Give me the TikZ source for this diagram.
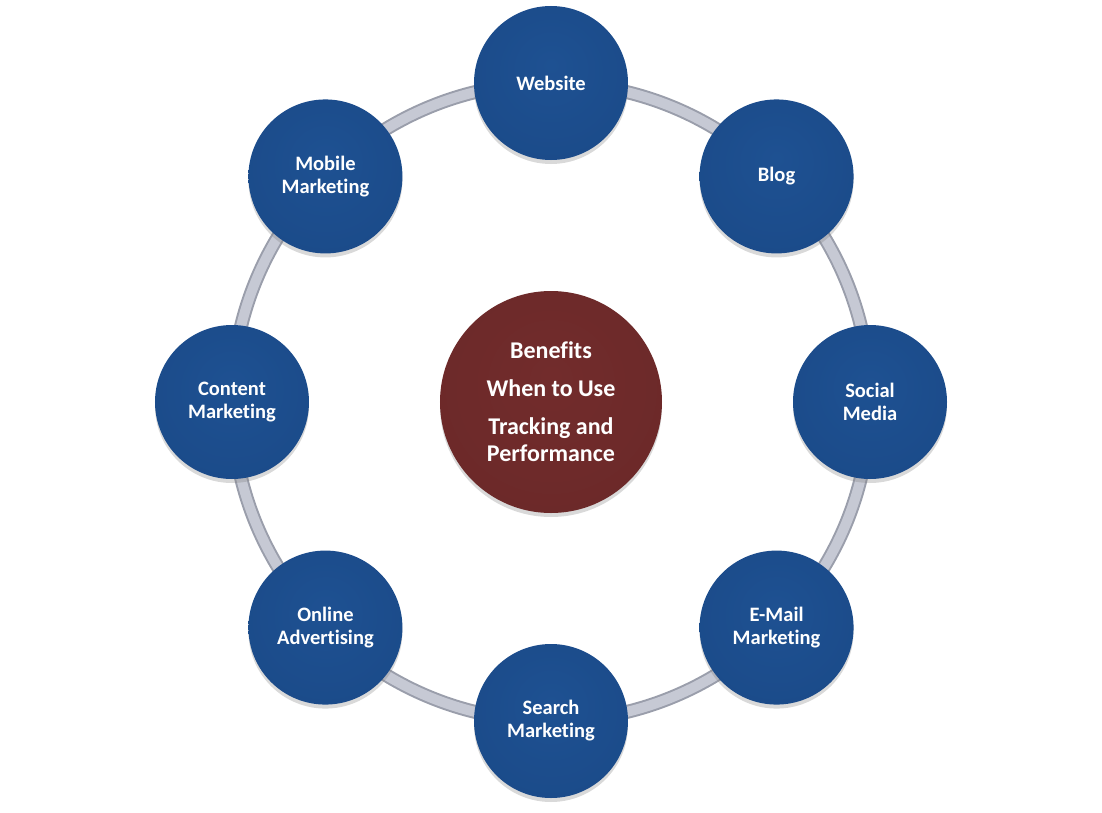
\documentclass[tikz,border=0pt]{standalone}
\usepackage{fontspec}
\setmainfont[Ligatures=NoCommon]{Carlito}
\usetikzlibrary{shadows}

\definecolor{navyIn}{HTML}{1E5192}
\definecolor{navyMid}{HTML}{1A4987}
\definecolor{navyOut}{HTML}{113769}
\definecolor{wineIn}{HTML}{722C2C}
\definecolor{wineMid}{HTML}{6A2828}
\definecolor{wineOut}{HTML}{521B1B}
\definecolor{tubeLight}{HTML}{C6C9D4}
\definecolor{tubeDark}{HTML}{9A9EAB}

\pgfdeclareradialshading{navyball}{\pgfpoint{0bp}{6bp}}%
  {color(0bp)=(navyIn); color(38bp)=(navyMid); color(50bp)=(navyOut)}
\pgfdeclareradialshading{wineball}{\pgfpoint{0bp}{6bp}}%
  {color(0bp)=(wineIn); color(38bp)=(wineMid); color(50bp)=(wineOut)}

\begin{document}
\begin{tikzpicture}
  [x=1pt,y=1pt,
   every node/.style={circle,inner sep=0pt,text=white,align=center},
   spoke/.style={minimum size=154pt,shading=navyball,
     drop shadow={shadow xshift=0pt,shadow yshift=-4pt,opacity=.3},
     font=\bfseries\fontsize{20.5}{23}\selectfont},
   hub/.style={minimum size=222pt,shading=wineball,
     drop shadow={shadow xshift=0pt,shadow yshift=-4pt,opacity=.3},
     font=\bfseries\fontsize{24}{27}\selectfont}]

  \useasboundingbox (-551,-410) rectangle (551,402);

  % the tube behind the circles
  \draw[tubeDark,line width=14pt] (0,0) circle[radius=319];
  \draw[tubeLight,line width=10pt] (0,0) circle[radius=319];

  \node[hub] (hub) at (0,0) {Benefits\\[11pt]When to Use\\[11pt]Tracking and\\Performance};

  \foreach \ang/\name/\txt in {90/web/Website,45/blog/Blog,0/social/Social\\Media,
      -45/email/E-Mail\\Marketing,-90/search/Search\\Marketing,
      -135/online/Online\\Advertising,180/content/Content\\Marketing,
      135/mobile/Mobile\\Marketing}
    \node[spoke] (\name) at (\ang:319) {\txt};
\end{tikzpicture}
\end{document}
